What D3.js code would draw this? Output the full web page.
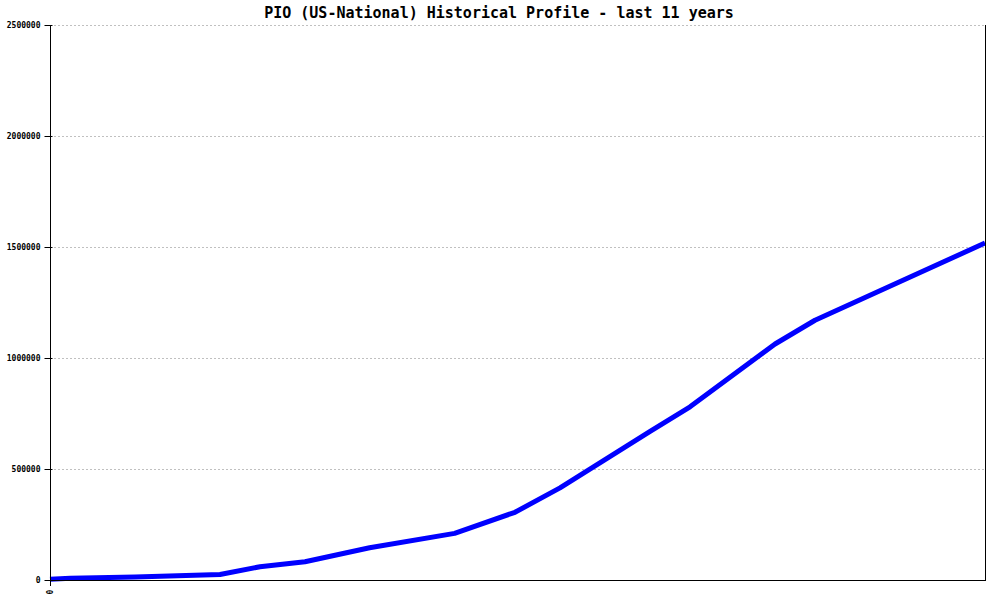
<!DOCTYPE html>
<html><head><meta charset="utf-8">
<script src="https://cdn.jsdelivr.net/npm/d3@7"></script>
<style>body{margin:0;background:#fff}svg{display:block}</style>
</head><body>
<svg id="c" width="1000" height="600"></svg>
<script>
const title = "PIO (US-National) Historical Profile - last 11 years";
const years = [0, 0.24, 1.0, 2.0, 2.47, 3.0, 3.76, 4.76, 5.47, 6.0, 7.06, 7.53, 8.53, 9.0, 11.0];
const values = [3000, 8000, 14000, 25000, 60000, 82000, 145000, 210000, 305000, 415000, 670000, 780000, 1063000, 1170000, 1518000];
const yTicks = [0, 500000, 1000000, 1500000, 2000000, 2500000];
const xTicks = [0];

const svg = d3.select("#c");
const L = 50, R = 985, T = 25, B = 580;
const x = d3.scaleLinear().domain([0, 11]).range([L, R]);
const y = d3.scaleLinear().domain([0, 2500000]).range([B, T]);

// grid
svg.append("g").selectAll("line").data(yTicks.filter(d => d > 0)).join("line")
  .attr("x1", L).attr("x2", R).attr("y1", d => y(d) + 0.5).attr("y2", d => y(d) + 0.5)
  .attr("stroke", "#c0c0c0").attr("stroke-dasharray", "2,2").attr("stroke-width", 1);

// line
svg.append("path").datum(years.map((d, i) => [d, values[i]]))
  .attr("fill", "none").attr("stroke", "#0000ff").attr("stroke-width", 5)
  .attr("stroke-linejoin", "round")
  .attr("d", d3.line().x(d => x(d[0])).y(d => y(d[1])));

// axes
const yAxis = d3.axisLeft(y).tickValues(yTicks).tickFormat(d3.format("d")).tickSize(6).tickPadding(4);
const gy = svg.append("g").attr("transform", `translate(${L + 0.5},0)`).call(yAxis);
gy.select(".domain").attr("d", `M0,${T}V${B + 6}`).attr("stroke", "#000");
gy.selectAll(".tick line").attr("x2", -6).attr("x1", 2).attr("stroke", "#000");
gy.selectAll("text").attr("font-family", "DejaVu Sans Mono, monospace").attr("font-size", 8).attr("font-weight", "bold").attr("fill", "#000");

svg.append("line").attr("x1", R + 0.5).attr("x2", R + 0.5).attr("y1", T).attr("y2", B).attr("stroke", "#000");
svg.append("line").attr("x1", L).attr("x2", R + 1).attr("y1", B + 0.5).attr("y2", B + 0.5).attr("stroke", "#000");

const xAxis = d3.axisBottom(x).tickValues(xTicks).tickFormat(d3.format("d")).tickSize(0);
const gx = svg.append("g").attr("transform", `translate(0,${B})`).call(xAxis);
gx.select(".domain").remove();
gx.selectAll("text").attr("font-family", "DejaVu Sans Mono, monospace").attr("font-size", 8).attr("font-weight", "bold")
  .attr("fill", "#000").attr("transform", "translate(0,12) rotate(-90)").attr("dy", "0.35em").attr("y", 0).attr("text-anchor", "middle");

svg.append("text").attr("x", 499).attr("y", 18).attr("text-anchor", "middle")
  .attr("font-family", "DejaVu Sans Mono, monospace").attr("font-size", 15).attr("font-weight", "bold").text(title);
</script>
</body></html>
